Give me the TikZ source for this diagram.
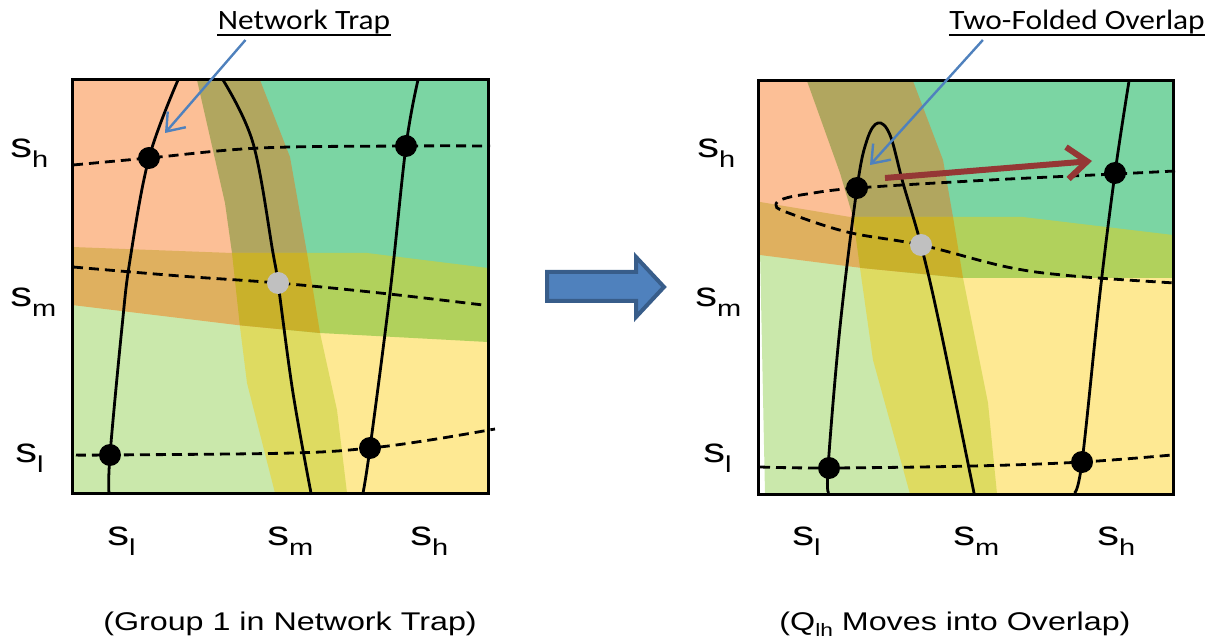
\documentclass[tikz,border=0pt]{standalone}
\usepackage{fontspec}
\setmainfont{Liberation Sans}[FakeStretch=1.26]
\newfontfamily\calibri{Carlito}[FakeStretch=1.12]
\usetikzlibrary{arrows.meta}

\definecolor{salmon}{HTML}{FCBF96}
\definecolor{seagreen}{HTML}{7BD5A3}
\definecolor{palegreen}{HTML}{CAE8AB}
\definecolor{paleyellow}{HTML}{FEE993}
\definecolor{bandolive}{HTML}{B1A65F}
\definecolor{bandtan}{HTML}{DFB05F}
\definecolor{bandlime}{HTML}{B1D15C}
\definecolor{bandyellow}{HTML}{DEDB61}
\definecolor{bandmustard}{HTML}{C9B12B}
\definecolor{noteblue}{HTML}{4F81BD}
\definecolor{arrowrim}{HTML}{385D8A}
\definecolor{moveRed}{HTML}{953735}
\definecolor{dotgray}{HTML}{C0C0C0}

% s with a low index
\newcommand{\slab}[1]{s\raisebox{-5pt}{\fontsize{11.5}{12}\selectfont #1}}

% bands of the two panels
\newcommand{\lvband}{(197,80) -- (225,203) -- (232,253) -- (240,327) -- (247,383) -- (275,493) -- (347,493) -- (337,410) -- (320,333) -- (307,253) -- (290,157) -- (260,80) -- cycle}
\newcommand{\lhband}{(72,247) -- (232,253) -- (367,253) -- (488,268) -- (488,342) -- (320,333) -- (237,325) -- (72,305) -- cycle}
\newcommand{\rvband}{(807,81) -- (840,173) -- (853,217) -- (860,268) -- (873,360) -- (910,494) -- (997,494) -- (988,403) -- (963,278) -- (953,217) -- (943,160) -- (913,81) -- cycle}
\newcommand{\rhband}{(760,202) -- (850,217) -- (1023,217) -- (1173,235) -- (1173,278) -- (963,278) -- (862,268) -- (760,255) -- cycle}

\begin{document}
\begin{tikzpicture}[x=0.5pt, y=-0.5pt,
    dot/.style={circle, fill=black, inner sep=0pt, minimum size=11pt},
    graydot/.style={circle, fill=dotgray, inner sep=0pt, minimum size=11pt},
    solidcurve/.style={line width=1.4pt},
    dashline/.style={line width=1.4pt, dash pattern=on 5pt off 3pt},
    panelframe/.style={line width=1.5pt},
    axlab/.style={inner sep=0pt, anchor=base west, font=\fontsize{17.3}{20}\selectfont},
    capt/.style={inner sep=0pt, anchor=base, font=\fontsize{12.8}{15}\selectfont},
    note/.style={inner sep=0pt, anchor=base, font=\calibri\fontsize{14}{16}\selectfont},
    underl/.style={line width=1.1pt},
    notearrow/.style={noteblue, line width=1.2pt, -{Straight Barb[length=8pt,width=12pt]}},
  ]
  \useasboundingbox (0,0) rectangle (1219,640);

  % ---- left panel: regions
  \fill[salmon] (72,80) -- (230,80) -- (270,290) -- (72,290) -- cycle;
  \fill[seagreen] (230,80) -- (488,80) -- (488,290) -- (270,290) -- cycle;
  \fill[palegreen] (72,290) -- (270,290) -- (310,493) -- (72,493) -- cycle;
  \fill[paleyellow] (270,290) -- (488,290) -- (488,493) -- (310,493) -- cycle;
  \begin{scope}
    \clip \lvband;
    \fill[bandolive] (72,80) rectangle (488,290);
    \fill[bandyellow] (72,290) rectangle (488,493);
  \end{scope}
  \begin{scope}
    \clip \lhband;
    \fill[bandtan] (72,240) rectangle (280,350);
    \fill[bandlime] (280,240) rectangle (488,350);
    \fill[bandmustard] \lvband;
  \end{scope}
  \draw[panelframe] (72,80) rectangle (488,493);

  \draw[solidcurve] plot[smooth, tension=0.6] coordinates {(178,80) (149,158) (130,260) (122,327) (110,455) (109,493)};
  \draw[solidcurve] plot[smooth, tension=0.6] coordinates {(223,80) (253,143) (273,253) (278,283) (293,393) (311,493)};
  \draw[solidcurve] plot[smooth, tension=0.6] coordinates {(418,80) (406,146) (390,293) (370,448) (363,493)};
  \draw[dashline] plot[smooth, tension=0.6] coordinates {(73,165) (149,158) (260,148) (406,146) (490,146)};
  \draw[dashline] plot[smooth, tension=0.6] coordinates {(73,267) (180,276) (278,283) (380,293) (483,305)};
  \draw[dashline] plot[smooth, tension=0.6] coordinates {(76,455) (110,455) (293,453) (370,448) (430,440) (495,429)};

  \foreach \n/\x/\y in {lh/149/158, hh/406/146, ll/110/455, hl/370/448} {
    \node[dot] (L\n) at (\x,\y) {};
  }
  \node[graydot] (Lmm) at (278,283) {};

  % ---- right panel: regions
  \fill[salmon] (760,81) -- (860,81) -- (880,250) -- (760,250) -- cycle;
  \fill[seagreen] (860,81) -- (1173,81) -- (1173,250) -- (880,250) -- cycle;
  \fill[palegreen] (760,250) -- (880,250) -- (930,494) -- (765,494) -- cycle;
  \fill[paleyellow] (880,250) -- (1173,250) -- (1173,494) -- (930,494) -- cycle;
  \begin{scope}
    \clip \rvband;
    \fill[bandolive] (760,81) rectangle (1173,250);
    \fill[bandyellow] (760,250) rectangle (1173,494);
  \end{scope}
  \begin{scope}
    \clip \rhband;
    \fill[bandtan] (760,195) rectangle (900,290);
    \fill[bandlime] (900,195) rectangle (1173,290);
    \fill[bandmustard] \rvband;
  \end{scope}
  \draw[panelframe] (758,81) rectangle (1173,494);

  \draw[solidcurve] plot[smooth, tension=0.6] coordinates {(829,493) (828,468) (840,327) (857,188) (867,140) (878,123) (890,135) (903,183) (921,245) (940,327) (974,493)};
  \draw[solidcurve] plot[smooth, tension=0.6] coordinates {(1129,81) (1115,173) (1100,293) (1082,462) (1074,493)};
  \draw[dashline] plot[smooth, tension=0.6] coordinates {(1175,171) (1115,174) (990,180) (857,188) (807,194) (783,199) (776,205) (786,212) (847,232) (921,245) (1007,267) (1073,276) (1175,283)};
  \draw[dashline] plot[smooth, tension=0.6] coordinates {(760,467) (829,468) (973,466) (1082,462) (1172,455)};

  \foreach \n/\x/\y in {lh/857/188, hh/1115/173, ll/829/468, hl/1082/462} {
    \node[dot] (R\n) at (\x,\y) {};
  }
  \node[graydot] (Rmm) at (921,245) {};

  \coordinate (moveA) at (885,178);
  \coordinate (moveB) at (1092,161);
  \draw[moveRed, line width=3pt, -{Straight Barb[length=10pt,width=16pt]}] (moveA) -- (moveB);

  % ---- axis labels
  \foreach \x/\y/\s in {10/158/h, 10/307/m, 15/463/l} {
    \node[axlab] (Ly\s) at (\x,\y) {\slab{\s}};
  }
  \foreach \x/\y/\s in {107/545/l, 267/545/m, 410/545/h} {
    \node[axlab] (Lx\s) at (\x,\y) {\slab{\s}};
  }
  \foreach \x/\y/\s in {697/158/h, 695/307/m, 703/463/l} {
    \node[axlab] (Ry\s) at (\x,\y) {\slab{\s}};
  }
  \foreach \x/\y/\s in {792/545/l, 953/545/m, 1097/545/h} {
    \node[axlab] (Rx\s) at (\x,\y) {\slab{\s}};
  }

  % ---- notes
  \node[note] (trap) at (304,30) {Network Trap};
  \draw[underl] ([yshift=-2.5pt]trap.base west) -- ([yshift=-2.5pt]trap.base east);
  \coordinate (trapTip) at (165,133);
  \draw[notearrow] ([xshift=14pt, yshift=-5pt]trap.base west) -- (trapTip);

  \node[note] (fold) at (1077,30) {Two-Folded Overlap};
  \draw[underl] ([yshift=-2.5pt]fold.base west) -- ([yshift=-2.5pt]fold.base east);
  \coordinate (foldTip) at (870,165);
  \draw[notearrow] ([xshift=17pt, yshift=-5pt]fold.base west) -- (foldTip);

  % ---- big arrow between panels
  \draw[line width=2pt, arrowrim, fill=noteblue, line join=miter]
    (547,272) -- (636,272) -- (636,257) -- (664,287) -- (636,317) -- (636,301) -- (547,301) -- cycle;

  % ---- captions
  \node[capt] (capL) at (290,630) {(Group 1 in Network Trap)};
  \node[capt] (capR) at (955,630) {(Q\raisebox{-3pt}{\fontsize{9}{10}\selectfont lh} Moves into Overlap)};
\end{tikzpicture}
\end{document}
